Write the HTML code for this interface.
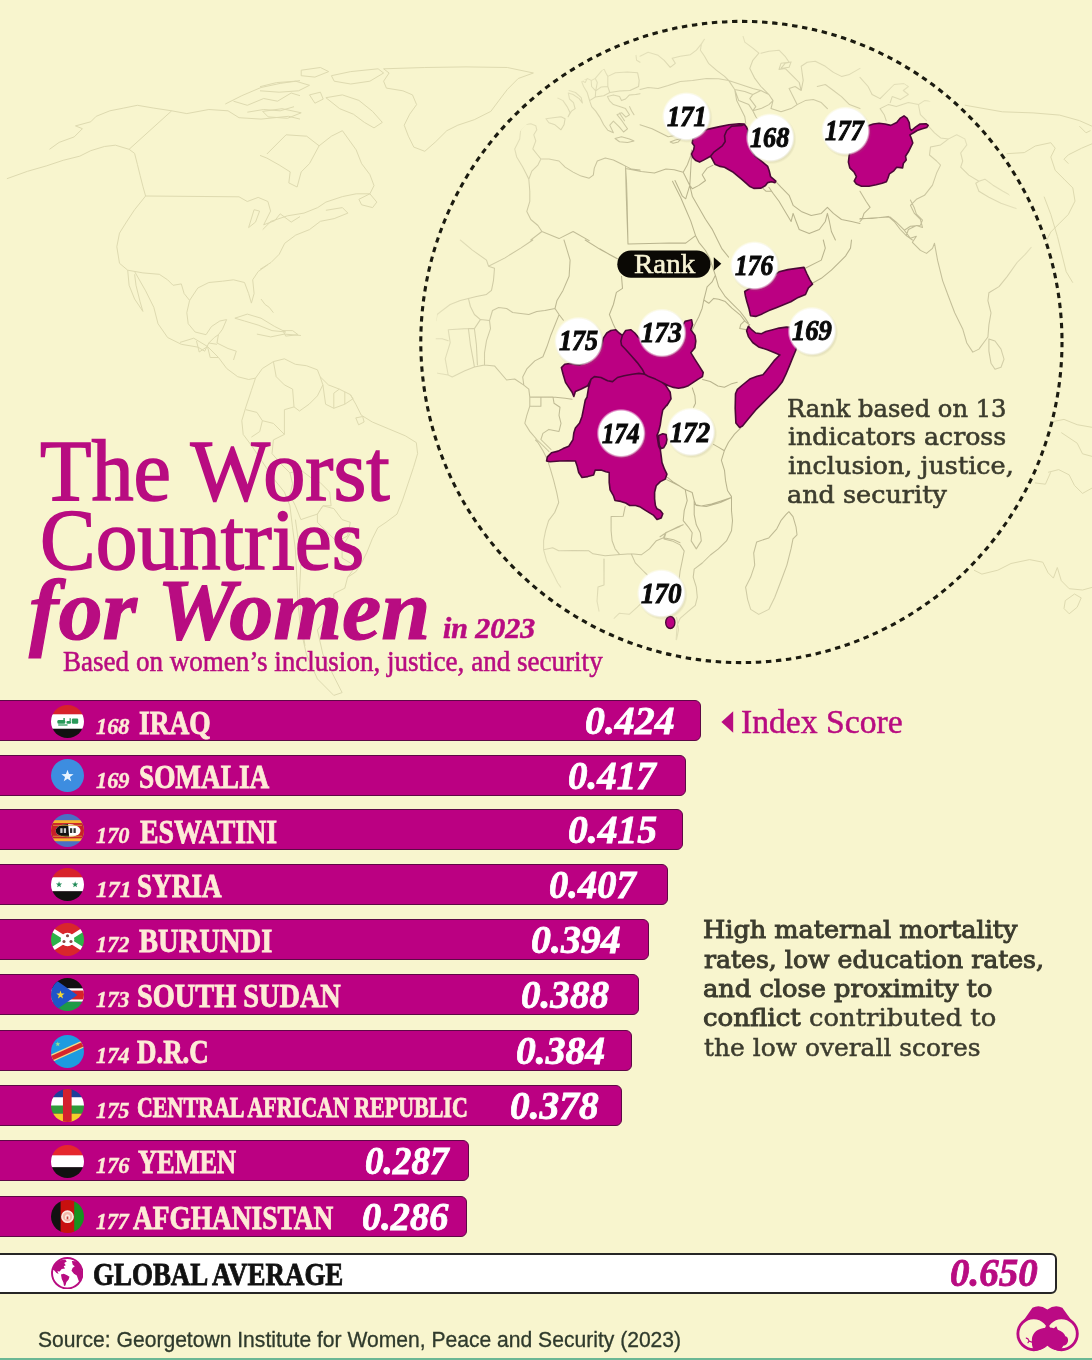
<!DOCTYPE html>
<html lang="en"><head><meta charset="utf-8"><title>The Worst Countries for Women in 2023</title>
<style>
html,body{margin:0;padding:0}
body{width:1092px;height:1360px;position:relative;overflow:hidden;background:#f8f5ce;font-family:'Liberation Serif', serif}
.t{position:absolute;white-space:nowrap;line-height:1;transform-origin:0 0}
.bar{position:absolute;left:-6px;height:39.4px;background:#bb0082;border:1.5px solid #5e0845;border-radius:6px}
.gbar{background:#fff;border:2px solid #262626;height:37px}
svg{position:absolute;left:0;top:0}
.flag{position:absolute;width:33px;height:33px;left:50.5px}
.green{position:absolute;left:0;top:1357.5px;width:1092px;height:2.5px;background:#6cb894}
</style></head>
<body>
<svg width="1092" height="1360" viewBox="0 0 1092 1360">
<defs>
<clipPath id="lensclip"><circle cx="741.4" cy="342.0" r="306"/></clipPath>
<radialGradient id="fade" gradientUnits="userSpaceOnUse" cx="741.4" cy="342.0" r="306"><stop offset="0.55" stop-color="#fff" stop-opacity="1"/><stop offset="0.8" stop-color="#fff" stop-opacity="0.7"/><stop offset="1" stop-color="#fff" stop-opacity="0.3"/></radialGradient>
<mask id="lm" maskUnits="userSpaceOnUse" x="0" y="0" width="1092" height="1360"><circle cx="741.4" cy="342.0" r="306" fill="url(#fade)"/></mask>
<radialGradient id="lg"><stop offset="0" stop-color="#fff"/><stop offset="0.9" stop-color="#fff"/><stop offset="1" stop-color="#fff" stop-opacity="0"/></radialGradient>
<radialGradient id="lsh"><stop offset="0.8" stop-color="#8a8660" stop-opacity="0.35"/><stop offset="1" stop-color="#8a8660" stop-opacity="0"/></radialGradient>
</defs>
<path d=" M6.9,178.7 L27.5,171.3 L46.7,165.8 L63.2,160.3 L79.7,156.2 L90.7,150.7 L104.4,146.5 L115.4,145.2 L129.1,149.3 L134.6,153.4 L137.4,164.4 L140.1,175.4 L142.9,186.4 L145.6,196.0 L140.1,202.9 L134.6,209.7 L126.4,222.1 L119.5,233.1 L116.8,246.8 L119.5,263.3 L127.7,270.2 M49.5,149.3 L59.1,142.4 L74.2,136.9 L82.4,128.7 L75.5,125.9 L90.7,121.8 L96.2,116.3 L109.9,110.8 L123.6,108.1 L137.4,105.3 L153.8,108.1 L171.7,110.8 L186.8,113.6 L208.8,109.5 L228.0,110.8 L239.0,117.7 L261.0,119.1 L288.5,116.3 L300.0,119.1 M171.7,110.8 L129.1,149.3 M225.3,104.0 L241.8,95.7 L261.0,87.5 L280.2,83.4 L300.0,80.6 M233.5,101.2 L247.3,105.3 L263.7,98.5 L277.5,101.2 L291.2,93.0 L300.0,95.7 M247.3,112.2 L263.7,109.5 L280.2,110.8 L294.0,106.7 M145.6,196.0 L239.0,196.8 L247.3,201.5 L258.2,197.4 L267.9,201.5 L270.6,211.1 L263.7,224.8 L274.7,220.7 L280.2,213.8 L291.2,222.1 L300.0,216.6 M254.1,209.7 L248.6,227.6 L255.5,222.1 L259.6,211.1 L254.1,209.7 M127.7,270.2 L142.9,272.9 L159.3,274.3 L167.6,279.8 L173.1,285.3 L181.3,283.9 L184.1,293.5 L189.6,300.4 M127.7,270.2 L129.1,285.3 L134.6,299.0 L142.9,311.4 L140.1,301.8 L136.0,285.3 L134.6,274.3 M134.6,271.5 L145.6,290.8 L153.8,307.3 L158.0,323.7 L167.6,337.5 L181.3,344.3 L197.8,347.1 L204.7,351.2 M189.6,300.4 L197.8,288.0 L208.8,282.5 L222.5,281.2 L233.5,279.8 L244.5,282.5 L248.6,293.5 L251.4,303.1 L254.1,293.5 L252.7,279.8 L258.2,271.5 L267.9,264.7 M189.6,300.4 L186.8,312.7 L188.2,323.7 L195.1,332.0 L206.0,334.7 L211.5,326.5 L219.8,321.0 L226.6,319.6 L222.5,329.2 L218.4,334.7 L217.0,343.0 L228.0,348.5 L236.3,351.2 L233.5,360.0 M204.7,351.2 L208.8,343.0 L214.3,337.5 L218.4,334.7 M208.8,343.0 L217.0,344.3 M234.9,318.2 L247.3,314.1 L261.0,318.2 L274.7,326.5 L285.7,332.0 L272.0,330.6 L258.2,325.1 L244.5,321.0 L234.9,318.2 M283.0,330.6 L292.6,330.6 L298.1,334.7 L285.7,336.1 L283.0,330.6 M261.0,299.0 L265.1,304.5 L269.2,307.3 L273.4,312.7 M383.6,68.8 L424.8,67.5 L466.0,66.9 L507.3,67.5 L533.4,73.0 L518.2,78.5 L507.3,89.5 L499.0,100.4 L490.8,111.4 L474.3,119.7 L457.8,125.2 L446.8,130.7 L435.8,141.6 L424.8,151.3 L413.8,147.1 L408.4,136.2 L404.2,125.2 L409.7,114.2 L416.6,104.6 L412.5,94.9 L402.9,90.8 L386.4,88.1 L383.6,81.2 L389.1,73.0 L383.6,68.8 M331.4,75.7 L350.7,71.6 L378.1,68.8 L383.6,73.0 L369.9,81.2 L350.7,84.0 L334.2,81.2 L331.4,75.7 M325.9,97.7 L342.4,94.9 L358.9,100.4 L372.6,111.4 L382.3,122.4 L374.0,127.9 L364.4,122.4 L353.4,114.2 L339.7,108.7 L325.9,97.7 M260.0,86.7 L276.5,82.6 L295.7,81.2 L309.5,85.3 L298.5,90.8 L279.2,92.2 L260.0,90.8 M262.7,111.4 L282.0,108.7 L301.2,112.8 L287.5,118.3 L268.2,116.9 L262.7,111.4 M309.5,94.9 L320.4,92.2 L323.2,99.1 L314.9,103.2 L309.5,94.9 M301.2,70.2 L320.4,67.5 L328.7,71.6 L314.9,77.1 L301.2,75.7 L301.2,70.2 M266.9,154.0 L286.1,134.8 L306.7,136.2 L319.1,145.8 L309.5,163.6 L301.2,171.9 L297.1,187.0 L288.8,182.9 L290.2,171.9 L279.2,165.0 L266.9,158.1 L260.0,155.4 M319.1,145.8 L331.4,136.2 L342.4,130.7 L356.2,149.9 L361.6,163.6 L369.9,174.6 L374.0,185.6 L369.9,193.8 L356.2,193.8 L342.4,196.6 L325.9,202.1 L317.7,207.6 L304.0,213.1 L287.5,215.8 L271.0,221.3 L262.7,229.6 M358.9,199.3 L369.9,193.8 L376.8,202.1 L372.6,207.6 L361.6,204.8 L358.9,199.3 M325.9,210.3 L342.4,207.6 L347.9,213.1 L334.2,218.6 L320.4,221.3 L309.5,229.6 L295.7,235.1 L284.7,243.3 L279.2,254.3 L271.0,262.5 L260.0,269.4 M180.0,342.4 L193.7,338.2 L207.5,346.5 L218.5,357.5 L226.7,368.5 L237.7,376.7 L248.7,379.5 L255.5,378.1 L262.4,368.5 L273.4,361.6 L284.4,358.8 L295.4,364.3 L306.4,365.7 L317.4,369.8 L320.1,376.7 L328.4,384.9 L339.3,389.1 L350.3,394.6 L355.8,404.2 L361.3,415.2 L372.3,422.0 L388.8,428.9 L405.3,435.8 L416.3,442.6 L417.6,453.6 L413.5,467.4 L408.0,483.8 L402.5,500.3 L397.0,514.1 L386.0,522.3 L377.8,527.8 L372.3,538.8 L366.8,552.5 L361.3,563.5 L355.8,571.8 L347.6,577.3 L344.8,588.2 L333.8,593.7 L333.8,604.7 L328.4,615.7 L317.4,630.0 L322.9,654.2 L333.8,676.2 L342.1,692.6 M255.5,378.1 L251.4,390.4 L245.9,406.9 L241.8,420.7 L243.2,434.4 L251.4,445.4 L262.4,461.9 L273.4,478.4 L284.4,492.1 L289.9,505.8 L292.6,527.8 L295.4,549.8 L296.8,577.3 L298.1,604.7 L300.9,630.0 L306.4,654.2 L317.4,678.9 L333.8,695.4 L342.1,692.6 M273.4,361.6 L276.2,376.7 L284.4,384.9 L292.6,389.1 L294.0,406.9 L299.5,411.0 L309.1,404.2 L317.4,395.9 L322.9,384.9 L320.1,376.7 M322.9,384.9 L325.6,404.2 L333.8,408.3 L333.8,393.2 L339.3,389.1 M333.8,408.3 L344.8,404.2 L344.8,391.8 M344.8,404.2 L353.1,398.7 L350.3,394.6 M245.9,409.7 L256.9,412.4 L262.4,420.7 L259.7,431.6 L251.4,437.1 M262.4,420.7 L273.4,423.4 L284.4,434.4 L273.4,439.9 L272.0,453.6 L281.6,464.6 L289.9,472.9 L300.9,470.1 L311.9,478.4 L320.1,482.5 L329.7,492.1 L331.1,505.8 L322.9,505.8 L317.4,514.1 L309.1,516.8 L300.9,519.6 L295.4,505.8 L289.9,494.8 L292.6,483.8 L289.9,472.9 M284.4,409.7 L294.0,406.9 M284.4,409.7 L284.4,434.4 M317.4,514.1 L322.9,505.8 L333.8,508.6 L342.1,519.6 L350.3,522.3 L347.6,536.0 L336.6,541.5 L328.4,533.3 L317.4,522.3 L317.4,514.1 M295.4,519.6 L298.1,538.8 L300.9,563.5 L299.5,591.0 L300.9,618.5 L305.0,645.9 M342.1,558.0 L355.8,566.3 L347.6,577.3 M350.3,533.3 L342.1,547.0 L342.1,558.0 M355.8,417.9 L362.7,416.5 L364.1,422.0 L358.6,424.8 L355.8,417.9 M256.9,334.1 L270.7,336.9 L284.4,334.1 L300.9,335.5 M196.5,341.0 L199.2,352.0 L207.5,346.5 M207.5,346.5 L210.2,357.5 L218.5,357.5 M964.8,105.2 L1002.3,111.8 L1033.1,112.9 L1059.6,115.1 L1079.4,120.6 L1092.0,126.2 M1006.7,153.7 L1024.3,152.6 L1035.3,146.0 L1050.8,142.7 L1055.2,148.2 L1050.8,157.0 L1055.2,170.3 L1064.0,179.1 L1072.8,187.9 L1075.0,201.1 L1068.4,214.4 L1059.6,223.2 L1050.8,232.0 L1046.4,240.8 M1092.0,143.8 L1081.6,148.2 L1068.4,154.8 L1064.0,159.2 L1068.4,163.6 M1044.1,196.7 L1050.8,214.4 L1057.4,236.4 L1061.8,254.0 L1066.2,271.7 L1072.8,282.7 M1079.4,126.2 L1086.0,132.8 L1090.5,130.6 M974.0,570.2 L981.9,574.1 L997.8,570.2 L1011.0,563.5 L1029.6,559.6 L1042.8,562.2 L1048.1,572.8 L1053.4,578.1 L1057.3,567.5 L1061.3,580.7 L1069.2,588.7 L1082.5,590.0 L1092.0,587.4 M1065.3,600.6 L1074.5,594.0 L1081.2,597.9 L1077.2,607.2 L1069.2,613.8 L1064.0,608.5 L1065.3,600.6 M1050.7,422.0 L1064.0,419.4 L1077.2,424.7 L1092.0,427.3 M1061.3,432.6 L1077.2,443.2 L1082.5,453.8 L1092.0,456.4 M1048.1,472.3 L1058.7,469.6 L1069.2,474.9 L1074.5,485.5 L1082.5,493.4 L1092.0,488.1 M1034.9,482.9 L1045.4,484.2 L1050.7,472.3" fill="none" stroke="#dedab0" stroke-width="1" stroke-linejoin="round"/>
<circle cx="741.4" cy="342.0" r="320.6" fill="#f8f5ce"/>
<g clip-path="url(#lensclip)">
<path mask="url(#lm)" d="M520.7,129.8 L524.8,124.8 L530.8,123.8 L535.8,125.8 L536.8,129.8 L533.8,134.8 L535.8,140.9 L532.8,148.9 L536.8,154.0 L540.9,159.0 M520.7,129.8 L519.7,138.9 L514.7,148.9 L516.7,157.0 L522.7,167.1 L526.8,175.1 L528.8,179.2 L531.8,171.1 L537.9,165.1 L540.9,159.0 M528.8,179.2 L529.8,191.2 L529.8,201.3 L526.8,211.4 L530.8,219.5 L537.9,225.5 L541.9,231.5 L559.0,238.6 L573.1,231.5 L589.2,240.6 M541.9,231.5 L530.8,240.0 M540.9,159.0 L548.9,159.0 L559.0,161.0 L565.1,167.1 L573.1,172.1 L581.2,176.1 L589.2,178.2 L593.3,175.1 L594.3,168.1 L597.3,161.0 L605.3,158.0 L613.4,160.0 L621.5,164.0 L625.5,166.1 L631.5,169.1 L640.0,170.1 M625.5,166.1 L626.5,181.2 L627.1,201.3 L627.5,221.5 L627.9,240.0 M545.9,118.7 L553.0,117.7 L561.0,116.7 L565.1,118.7 L564.0,124.8 L561.0,129.8 L555.0,124.8 L548.9,122.7 L545.9,118.7 M557.0,97.6 L563.0,100.6 L567.1,106.6 L570.1,112.7 L568.1,116.7 L571.5,111.1 L575.1,108.6 L573.5,102.6 L569.5,99.0 L568.3,92.9 L573.1,94.5 L579.2,98.6 L582.4,103.0 L581.2,97.6 L575.5,92.5 L569.1,90.5 M581.2,80.4 L583.6,86.5 L587.2,92.5 L589.6,100.6 L591.6,106.6 L595.7,111.1 L599.7,117.1 L603.7,124.8 L607.8,130.2 L613.4,132.8 L609.8,125.2 L613.4,121.1 L619.5,127.2 L623.5,132.0 L627.5,128.8 L621.9,120.7 L617.0,114.7 L621.5,112.7 L625.9,117.1 L629.5,114.7 L625.5,108.6 L619.5,106.6 L613.4,104.6 L609.4,100.6 L607.4,96.6 M615.0,138.5 L621.5,136.8 L629.5,138.9 L634.0,140.9 L627.5,142.5 L619.5,141.7 L615.0,138.5 M581.2,80.4 L587.2,78.4 L591.2,80.4 L591.6,86.5 L595.7,90.9 L595.3,97.0 L589.6,100.6 M595.7,90.9 L601.3,86.9 L607.8,86.5 L609.8,92.5 L603.7,95.8 L595.3,97.0 M603.7,68.4 L605.8,72.8 L607.8,76.4 L607.8,86.5 M607.8,76.4 L615.4,72.8 L627.5,72.0 L637.6,72.8 L639.2,80.4 L638.6,86.5 L629.9,90.5 L619.5,90.9 L609.8,92.5 M607.4,96.6 L613.4,94.9 L619.5,96.6 L621.5,100.6 L625.5,99.0 L629.5,94.9 L635.6,94.5 L640.0,93.7 M629.5,106.6 L631.5,110.7 L634.0,114.7 M619.5,113.1 L621.9,116.7 L624.5,120.7 M635.6,52.2 L636.6,60.3 L640.0,62.3 M587.2,78.4 L585.2,82.5 L581.2,80.4 M591.6,80.4 L595.3,78.4 L597.3,82.5 L595.7,90.9 M595.3,78.4 L603.7,68.4 M640.0,56.3 L648.1,52.2 L658.1,55.3 L664.2,60.3 L670.2,67.3 L675.3,63.3 L672.2,58.3 L680.3,56.3 L690.4,54.7 L696.4,50.2 L700.4,45.2 L704.5,39.1 L701.4,44.2 L700.4,50.2 L704.5,56.3 L708.5,63.3 L716.6,70.4 L724.6,76.4 L728.6,80.4 M640.0,89.5 L648.1,87.5 L658.1,88.5 L668.2,85.5 L680.3,81.4 L692.4,80.4 L706.5,78.4 L718.6,78.8 L728.6,80.4 M742.7,35.1 L744.8,42.2 L752.8,48.2 L758.9,53.2 L752.8,60.3 L749.8,68.4 L754.8,78.4 L760.9,86.5 L768.9,94.5 L773.0,100.6 L771.0,108.6 L781.0,111.7 L791.1,108.6 L797.1,104.6 L793.1,96.6 L789.1,88.5 L795.1,86.5 L801.2,90.5 L799.2,82.5 L793.1,76.4 L785.1,68.4 L779.0,69.4 L781.0,63.3 L789.1,62.3 L785.1,56.3 L779.0,50.2 L768.9,51.2 L760.9,53.2 M640.0,124.8 L646.0,126.8 L652.1,128.8 L660.1,132.8 L668.2,136.8 L676.3,135.2 L684.3,136.8 L690.4,134.8 L694.4,140.9 M670.2,141.9 L675.3,139.9 L681.3,138.5 L678.3,141.9 L673.2,143.3 L670.2,141.9 M728.6,80.4 L740.7,84.5 L752.8,88.5 L760.9,90.5 L768.9,94.5 M728.6,80.4 L734.7,89.5 L744.8,91.5 L752.8,94.5 L760.9,90.5 M734.7,89.5 L738.7,100.6 L748.8,104.6 L752.8,110.7 L755.8,106.6 L749.8,98.6 L752.8,94.5 M752.8,110.7 L760.9,108.6 L768.9,104.6 L773.0,100.6 M734.7,89.5 L736.7,100.6 L740.7,108.6 L744.8,116.7 L745.8,123.8 M752.8,110.7 L755.8,116.7 L758.9,120.7 M797.1,104.6 L805.2,100.6 L813.3,99.6 L821.3,102.6 L827.4,108.6 M801.2,90.5 L803.2,80.4 L801.2,66.3 L807.2,62.3 L815.3,61.3 L825.3,66.3 L833.4,72.4 L841.5,76.4 L849.5,74.4 L860.0,68.4 M817.3,86.5 L825.3,84.5 L833.4,90.5 L841.5,96.6 L849.5,104.6 L860.0,108.6 M781.0,68.4 L785.1,63.3 L791.1,61.9 L789.1,67.3 L781.0,68.4 M775.4,181.2 L781.0,187.2 L789.1,195.3 L793.1,205.3 L801.2,211.4 L811.2,215.4 L821.3,213.4 L827.4,207.4 L833.4,213.4 L841.5,219.5 L851.5,221.5 L860.0,223.5 M768.9,187.2 L773.0,193.3 L779.0,201.3 L785.1,211.4 L791.1,221.5 L793.1,213.4 L796.1,221.5 L799.2,229.5 L809.2,233.6 L819.3,229.5 L825.3,221.5 L827.4,213.4 L829.4,221.5 L831.4,231.5 L835.4,240.0 M762.9,188.4 L765.9,191.2 L771.0,191.2 M860.0,77.4 L868.1,86.5 L872.1,94.5 L880.1,98.6 L886.2,92.5 L894.2,84.5 L904.3,83.5 L908.4,86.5 L903.3,90.5 L908.4,94.5 L900.3,99.6 L892.2,96.6 L890.2,102.6 M880.1,108.6 L888.2,104.6 L896.3,106.6 L908.4,102.6 L918.4,104.6 L920.4,114.7 L926.5,120.7 M918.4,104.6 L924.5,100.6 L932.5,101.6 M880.1,108.6 L884.2,114.7 L886.2,120.7 M927.5,125.2 L934.5,132.8 L940.6,137.9 L948.6,138.9 L956.7,134.8 L964.8,138.9 L966.8,144.9 L960.7,153.0 L962.7,161.0 L960.7,167.1 L968.8,175.1 L978.9,181.2 L984.9,179.2 L993.0,185.2 L1003.0,191.2 L1012.1,196.3 M975.8,183.2 L978.9,191.2 L988.9,197.3 L1001.0,203.3 L1013.1,207.4 L1019.2,209.4 M978.9,181.2 L975.8,183.2 M948.6,138.9 L940.6,144.9 L930.5,146.9 L929.5,155.0 L936.6,161.0 L940.6,165.1 L936.6,173.1 L932.5,185.2 L924.5,195.3 L916.4,199.3 L910.4,205.3 L914.4,213.4 L920.4,219.5 L922.5,227.5 L916.4,225.5 L908.4,229.5 L906.3,235.6 L912.4,240.0 M860.0,191.2 L866.0,201.3 L870.1,207.4 L864.0,213.4 L862.0,219.5 L860.0,221.5 M860.0,218.4 L872.1,218.4 L888.2,216.4 L894.2,221.5 L900.3,229.5 L906.3,235.6 M460.3,240.0 L472.4,250.1 L486.5,260.1 L488.5,266.2 L504.6,258.1 L520.7,248.1 L532.8,240.0 M488.5,266.2 L494.5,268.2 L493.5,280.3 L491.5,290.4 L486.5,294.4 L476.4,296.4 L468.4,298.4 L460.3,300.4 L450.2,304.5 L442.2,310.5 L437.1,314.5 L436.1,320.6 M468.4,298.4 L470.4,306.5 L474.4,314.5 L480.4,319.6 L489.5,320.6 L492.5,310.5 L498.6,307.5 L506.6,308.5 L512.7,312.5 L520.7,313.5 L528.8,314.5 L536.8,311.5 L544.9,310.5 L555.0,308.5 M555.0,308.5 L557.0,300.4 L563.0,290.4 L569.1,276.3 L570.1,260.1 L567.1,250.1 L564.0,240.0 M585.2,240.0 L601.3,250.1 L618.4,259.1 M621.5,276.3 L622.5,288.4 L616.4,292.4 L613.4,304.5 L609.4,314.5 L613.4,324.6 L616.4,330.7 M555.0,308.5 L559.0,314.5 L563.4,320.2 M559.0,314.9 L551.0,334.7 L546.9,346.8 L542.9,356.8 L534.8,360.9 L526.8,368.9 L522.7,377.0 L523.8,385.1 L528.8,389.1 L529.8,397.1 L540.9,397.1 L553.0,397.1 L565.1,398.2 L572.1,399.2 M529.8,397.1 L529.8,406.2 L540.9,406.2 L540.9,397.1 M529.8,406.2 L526.8,415.3 L524.8,423.3 L529.8,431.4 L536.8,439.5 L542.9,445.5 L548.9,451.5 M553.0,397.1 L554.0,403.2 L560.0,407.2 L559.0,415.3 L561.0,423.3 L559.0,431.4 L548.9,429.4 L542.9,433.4 L540.9,439.5 L544.9,443.5 L551.0,449.5 M436.1,373.0 L448.2,375.0 L452.2,377.0 L464.3,371.0 L474.4,366.9 L484.5,364.9 L494.5,365.9 L500.6,373.0 L506.6,380.0 L514.7,379.0 L523.8,385.1 M489.5,320.6 L490.5,328.6 L486.5,340.7 L484.5,352.8 L484.5,364.9 M474.4,328.6 L476.4,344.8 L477.4,364.9 M468.4,328.6 L470.4,344.8 L473.4,360.9 L474.4,366.9 M448.2,329.7 L468.4,328.6 L474.4,328.6 L480.4,319.6 M448.2,329.7 L450.2,342.7 L445.2,358.9 L448.2,375.0 M435.1,338.7 L442.2,338.7 L448.2,340.7 M744.8,320.6 L740.7,324.6 L739.7,328.6 L746.8,329.7 L749.8,324.6 M805.2,268.2 L821.3,260.1 L825.3,248.1 L823.3,240.0 M812.3,283.3 L821.3,278.3 L831.4,270.2 L839.5,262.2 L845.5,256.1 L850.5,248.1 L851.5,240.0 M860.0,219.1 L872.1,218.1 L890.2,217.1 L896.3,222.2 L904.3,230.2 L910.4,226.2 L920.4,225.2 L922.5,220.1 L916.4,214.1 L914.4,208.1 L910.4,200.0 M904.3,230.2 L910.4,238.3 L916.4,236.3 L912.4,242.3 L920.4,250.4 L926.5,253.4 L932.5,248.4 L934.5,243.3 L937.6,260.4 L942.6,280.6 L948.6,296.7 L954.7,312.8 L962.7,328.9 L966.8,343.0 L972.8,352.1 L978.9,349.1 L984.9,341.0 L987.9,337.0 L988.9,324.9 L991.0,312.8 L987.9,300.7 L988.9,292.7 L999.0,286.6 L1007.1,276.6 L1017.1,262.5 L1025.2,254.4 L1031.2,247.3 M988.9,339.0 L995.0,341.0 L1001.0,349.1 L1004.0,359.2 L1001.0,367.2 L995.0,369.2 L991.0,363.2 L988.9,351.1 L988.9,339.0 M535.5,440.0 L537.6,442.0 L542.6,450.1 L547.6,460.1 L550.7,470.2 L553.7,480.3 L556.7,492.4 L558.7,502.5 L554.7,512.5 L548.6,520.6 L545.6,530.7 L543.6,540.7 L543.6,549.8 L546.6,560.9 L552.7,573.0 L557.7,583.0 L560.7,587.1 M543.6,549.8 L552.7,547.8 L558.7,550.8 L572.8,550.4 L588.9,550.8 L593.0,553.8 L605.1,555.8 L617.1,554.8 L631.2,553.8 M611.1,516.6 L611.1,530.7 L612.1,540.7 L615.1,548.8 L619.2,553.8 M611.1,516.6 L623.2,516.2 L625.2,506.5 M604.0,558.9 L604.0,585.1 L598.0,587.1 L597.0,601.2 L599.0,611.2 M631.2,553.8 L635.3,562.9 L643.3,571.0 L647.4,575.0 M614.1,618.3 L619.2,613.3 L629.2,614.3 L637.3,607.2 L641.3,603.2 M631.2,553.8 L641.3,554.8 L649.4,548.8 L656.4,540.7 L663.5,537.7 L665.5,532.7 L680.0,526.6 M663.5,537.7 L673.6,539.7 L680.0,542.7 M667.5,477.3 L673.6,482.3 L680.0,486.3 M676.6,617.3 L678.6,629.4 L676.6,639.5 M740.6,428.1 L734.5,434.1 L728.5,442.2 L724.5,450.2 L721.4,460.3 L724.5,470.4 L725.5,480.4 L727.5,490.5 L731.5,496.6 L731.5,510.7 L732.5,520.7 L731.5,530.8 L726.5,540.9 L718.4,548.9 L710.4,555.0 L702.3,563.0 L694.2,569.1 L693.2,577.1 L696.3,587.2 L697.3,597.3 L695.3,605.3 L688.2,611.4 L680.1,618.4 L677.1,625.5 L676.1,640.0 M731.5,497.6 L720.4,502.6 L706.3,506.6 L696.3,505.6 L694.2,500.6 M685.2,489.5 L687.2,500.6 L684.2,510.7 L683.2,520.7 L688.2,526.8 L692.2,532.8 L691.2,540.9 L696.3,548.9 L701.3,540.9 L700.3,532.8 L696.3,524.8 L694.2,514.7 L694.2,500.6 L692.2,492.5 L685.2,489.5 M660.0,536.8 L666.0,532.8 L678.1,526.8 L683.2,524.8 M666.0,532.8 L664.0,538.9 L672.1,540.9 L680.1,544.9 L684.2,551.0 L682.2,561.0 L680.1,571.1 L679.1,579.2 M788.9,511.7 L793.0,516.7 L796.0,526.8 L797.0,534.8 L793.0,538.9 L791.0,548.9 L786.9,565.1 L780.9,581.2 L774.8,597.3 L768.8,609.4 L758.7,614.4 L750.7,609.4 L747.6,599.3 L745.6,587.2 L750.7,577.1 L754.7,565.1 L753.7,553.0 L756.7,541.9 L768.8,537.9 L776.8,528.8 L780.9,520.7 L785.9,514.7 L788.9,511.7 M625.5,168.1 L626.4,199.5 L628.0,244.0 M625.5,168.5 L641.2,171.4 L654.4,173.1 L665.9,169.0 L674.2,169.8 L683.2,172.3 L687.4,164.8 L690.7,155.8 L691.6,150.0 M628.0,244.0 L649.5,243.6 L669.2,243.1 L685.7,243.1 L695.6,235.7 M672.5,181.3 L677.5,191.2 L680.8,197.8 L685.7,209.3 L690.7,220.9 L695.6,235.7 L698.9,242.3 L705.5,250.5 L709.6,258.0 L715.4,275.3 L718.7,286.8 L725.3,296.7 L731.9,303.3 L740.1,311.5 L745.1,318.1 L748.4,323.1 M675.0,180.5 L682.4,196.2 L685.7,198.8 L689.8,185.4 M683.2,172.3 L689.8,185.4 M689.8,185.4 L692.3,196.2 L698.9,207.7 L705.5,219.2 L712.1,229.1 L717.0,239.0 L722.0,248.9 L728.6,257.1 M689.8,185.4 L692.3,188.7 L698.9,185.4 L705.5,180.5 L702.2,174.7 L707.1,168.1 L712.9,165.2 M691.5,155.8 L690.7,169.8 L689.8,185.4 M715.4,275.3 L712.1,281.9 L707.1,286.8 L705.5,293.4 L703.8,300.0 L708.8,303.3 L713.7,298.4 L718.7,299.2 L725.3,301.6 L731.9,308.2 L740.1,314.8 L745.1,321.4 L749.2,324.7 M703.8,300.0 L702.2,308.2 L698.9,316.5 L695.6,323.1 L692.3,330.0 M600.0,248.9 L609.9,254.7 L617.3,258.8 M692.3,387.9 L694.9,395.6 L695.5,403.3 L693.6,407.2 M702.6,379.6 L710.3,381.5 L717.9,386.0 L724.4,387.3 L730.8,384.1 L737.2,382.2 M713.5,444.4 L719.2,447.6 L724.4,450.8 M731.4,497.6 L721.8,500.8 L711.5,504.0 L701.3,505.9 L694.9,504.6 M666.7,479.6 L673.1,482.8 L679.5,486.0 L684.6,489.2" fill="none" stroke="#b9b48e" stroke-width="1.05" stroke-linejoin="round" stroke-linecap="round"/>
<path d="M704.0,130.5 L708.4,129.1 L718.6,126.9 L728.9,124.7 L739.1,123.7 L744.2,124.0 L742.1,125.4 L731.8,126.2 L726.7,130.5 L724.5,135.7 L725.2,141.5 L722.3,145.9 L714.2,151.8 L710.5,156.2 L704.0,159.9 L699.6,162.1 L695.9,160.6 L693.0,157.7 L691.5,154.0 L693.7,149.6 L694.4,145.9 L692.2,143.0 L693.0,138.6 L695.9,136.4 L701.0,132.7Z M744.2,124.0 L746.4,126.9 L747.9,130.5 L747.5,134.5 L748.2,138.6 L750.8,148.9 L755.2,156.2 L762.6,162.1 L767.7,166.4 L769.2,170.8 L770.6,176.7 L775.8,181.1 L775.0,182.6 L771.4,181.8 L767.7,182.6 L765.5,185.5 L761.1,188.1 L753.8,188.4 L749.4,186.2 L742.1,179.6 L733.3,172.3 L724.5,167.2 L720.1,166.4 L714.9,164.2 L712.7,159.9 L710.5,156.2 L714.2,151.8 L722.3,145.9 L725.2,141.5 L724.5,135.7 L726.7,130.5 L731.8,126.2 L742.1,125.4Z M868.9,125.4 L873.3,124.0 L879.1,123.2 L885.0,124.0 L890.8,125.4 L896.7,122.5 L900.4,118.1 L904.0,115.9 L907.0,118.1 L909.2,122.5 L909.9,128.4 L911.4,130.5 L915.8,126.9 L920.1,124.0 L926.0,123.7 L928.2,125.4 L926.7,127.6 L921.6,129.1 L917.2,130.5 L913.6,132.7 L909.9,134.9 L911.4,138.6 L912.8,143.0 L910.6,147.4 L908.4,151.8 L905.5,156.2 L906.2,159.9 L903.3,163.5 L902.6,167.9 L896.7,167.2 L893.8,170.8 L889.4,173.8 L887.9,178.2 L886.4,181.8 L882.1,183.3 L876.2,184.8 L868.9,186.2 L861.5,186.2 L856.4,184.0 L854.2,181.1 L856.4,176.7 L854.2,172.3 L849.8,167.9 L848.4,162.1 L849.1,156.2 L850.5,148.9 L849.8,141.5 L855.7,135.7 L861.5,131.3Z M744.7,291.5 L748.4,289.3 L758.6,284.2 L768.9,278.4 L779.1,271.8 L787.9,269.6 L796.7,268.4 L804.0,267.4 L807.0,274.0 L809.9,279.8 L812.5,284.2 L808.4,287.9 L805.5,294.5 L798.2,297.4 L790.8,301.8 L783.5,304.7 L776.2,307.7 L768.9,310.6 L761.5,314.2 L755.7,316.4 L750.5,315.7 L749.1,309.1 L746.9,301.8 L745.4,295.9Z M748.4,326.4 L751.3,329.3 L755.7,333.0 L761.5,333.7 L765.9,331.5 L771.8,330.0 L779.1,328.1 L786.4,327.1 L792.3,327.5 L796.7,329.3 L797.4,338.1 L796.0,349.8 L792.3,358.6 L789.4,365.9 L785.7,374.7 L782.1,382.1 L776.2,389.4 L770.3,395.2 L763.0,402.6 L755.7,409.9 L748.4,418.7 L742.5,426.0 L739.6,427.5 L735.9,423.1 L735.2,408.4 L735.5,393.8 L737.4,389.4 L742.5,385.0 L749.8,379.1 L757.1,376.2 L763.0,374.7 L768.9,367.4 L774.7,360.1 L779.9,354.9 L774.7,352.7 L767.4,349.8 L758.6,346.9 L752.7,342.5 L748.4,336.6 L746.6,330.8Z M561.4,367.6 L564.7,364.3 L569.7,363.5 L579.6,365.1 L589.5,361.0 L596.0,354.4 L601.0,347.8 L603.5,337.9 L606.8,333.0 L610.9,330.5 L615.8,329.7 L619.1,333.0 L622.4,335.4 L620.8,341.2 L621.6,345.3 L625.7,349.5 L631.5,356.0 L637.3,362.6 L642.2,369.2 L644.7,374.2 L638.9,373.4 L632.3,374.2 L624.1,375.8 L617.5,377.5 L612.5,381.6 L607.6,380.8 L601.0,377.5 L594.4,376.6 L591.1,379.1 L587.8,385.7 L581.2,389.0 L575.4,391.5 L573.8,396.4 L572.1,392.3 L568.8,387.4 L565.5,382.4 L563.1,374.2Z M622.4,335.4 L625.7,330.5 L630.7,329.7 L634.8,333.0 L638.9,337.9 L645.5,341.2 L655.4,341.2 L668.6,337.9 L680.1,329.7 L685.1,321.4 L691.6,319.8 L692.5,324.7 L690.8,329.7 L694.9,335.4 L695.8,341.2 L694.9,347.8 L690.8,352.7 L694.9,359.3 L699.1,365.9 L703.2,372.5 L702.4,376.6 L698.2,379.1 L693.3,382.4 L688.4,385.7 L683.4,387.4 L678.5,388.2 L673.5,387.4 L668.6,385.7 L662.0,382.4 L655.4,379.1 L648.8,376.6 L644.7,374.2 L642.2,369.2 L637.3,362.6 L631.5,356.0 L625.7,349.5 L621.6,345.3 L620.8,341.2Z M594.4,376.6 L601.0,377.5 L607.6,380.8 L612.5,381.6 L617.5,377.5 L624.1,375.8 L632.3,374.2 L638.9,373.4 L644.7,374.2 L648.8,376.6 L655.4,379.1 L662.0,382.4 L665.3,384.9 L670.2,392.3 L671.0,398.9 L666.9,405.5 L666.9,404.9 L662.8,409.9 L661.2,418.1 L660.3,424.7 L658.7,431.3 L657.0,435.4 L657.9,441.2 L658.7,446.2 L660.3,449.5 L661.2,456.0 L662.0,462.6 L664.5,469.2 L666.9,474.2 L665.3,479.1 L660.3,481.6 L656.2,485.7 L654.6,492.3 L654.6,498.9 L655.4,505.5 L657.0,508.8 L660.3,510.4 L662.8,513.7 L661.2,517.9 L657.0,519.5 L653.7,515.4 L649.6,512.9 L645.5,510.4 L640.5,507.1 L635.6,505.5 L629.8,505.5 L625.7,503.0 L620.8,501.4 L615.0,500.5 L613.4,495.6 L610.1,489.8 L609.2,482.4 L609.2,472.5 L605.9,471.7 L601.0,470.1 L595.2,470.1 L593.6,475.0 L587.8,476.6 L582.0,477.5 L578.7,472.5 L577.1,465.9 L575.4,461.0 L568.0,460.7 L559.8,461.0 L549.9,461.8 L546.6,461.0 L547.4,456.9 L551.5,452.7 L558.1,451.1 L563.1,448.6 L568.8,446.2 L573.0,439.6 L573.8,433.0 L575.4,428.0 L579.6,423.1 L582.0,416.5 L583.7,408.2 L585.3,400.0 L587.0,397.3 L588.6,387.4 L591.1,379.1Z M658.7,435.4 L662.8,433.8 L666.1,434.6 L666.9,439.6 L666.1,443.7 L663.6,447.8 L661.2,448.6 L659.5,445.3 L658.7,440.4Z" fill="#bb0082" stroke="#4d0738" stroke-width="1.6" stroke-linejoin="round"/>
<ellipse cx="670.3" cy="622.5" rx="4.6" ry="6" fill="#bb0082" stroke="#4d0738" stroke-width="1.4"/>
</g>
<circle cx="741.4" cy="342.0" r="320.6" fill="none" stroke="#1b1b10" stroke-width="3.1" stroke-dasharray="5.4 4.672"/>
<circle cx="687.7" cy="118.1" r="25" fill="url(#lsh)"/><circle cx="686.5" cy="116.5" r="24.6" fill="url(#lg)"/><circle cx="771.5" cy="139.29999999999998" r="25" fill="url(#lsh)"/><circle cx="770.3" cy="137.7" r="24.6" fill="url(#lg)"/><circle cx="846.8000000000001" cy="132.5" r="25" fill="url(#lsh)"/><circle cx="845.6" cy="130.9" r="24.6" fill="url(#lg)"/><circle cx="755.7" cy="267.20000000000005" r="25" fill="url(#lsh)"/><circle cx="754.5" cy="265.6" r="24.6" fill="url(#lg)"/><circle cx="813.3000000000001" cy="332.8" r="25" fill="url(#lsh)"/><circle cx="812.1" cy="331.2" r="24.6" fill="url(#lg)"/><circle cx="579.9000000000001" cy="342.8" r="25" fill="url(#lsh)"/><circle cx="578.7" cy="341.2" r="24.6" fill="url(#lg)"/><circle cx="663.2" cy="334.6" r="25" fill="url(#lsh)"/><circle cx="662" cy="333" r="24.6" fill="url(#lg)"/><circle cx="622.4000000000001" cy="434.90000000000003" r="25" fill="url(#lsh)"/><circle cx="621.2" cy="433.3" r="24.6" fill="url(#lg)"/><circle cx="692.2" cy="433.6" r="25" fill="url(#lsh)"/><circle cx="691.0" cy="432.0" r="24.6" fill="url(#lg)"/><circle cx="662.7" cy="595.1" r="25" fill="url(#lsh)"/><circle cx="661.5" cy="593.5" r="24.6" fill="url(#lg)"/>
<rect x="617.3" y="250.6" width="93.2" height="27.2" rx="13.6" fill="#0b0905"/>
<polygon points="713.8,257.2 721.3,263.8 713.8,270.4" fill="#0b0905"/>
<polygon points="721.4,722 733.2,711.2 733.2,732.8" fill="#b80c81"/>
</svg>
<div class="bar" style="top:700.0px;width:704.6px"></div>
<div class="bar" style="top:754.5px;width:689.5px"></div>
<div class="bar" style="top:809.0px;width:687.2px"></div>
<div class="bar" style="top:863.5px;width:672.2px"></div>
<div class="bar" style="top:918.5px;width:653.0px"></div>
<div class="bar" style="top:973.5px;width:642.6px"></div>
<div class="bar" style="top:1029.9px;width:636.0px"></div>
<div class="bar" style="top:1084.5px;width:625.5px"></div>
<div class="bar" style="top:1139.8px;width:473.2px"></div>
<div class="bar" style="top:1195.5px;width:471.2px"></div>
<div class="bar gbar" style="top:1252.6px;width:1059px"></div>
<svg class="flag" style="top:704.85px" viewBox="0 0 32 32" aria-label="iraq flag"><defs><clipPath id="fc0"><circle cx="16" cy="16" r="16"/></clipPath></defs><g clip-path="url(#fc0)"><rect width="32" height="9.5" fill="#d7222b"/><rect y="9" width="32" height="14.5" fill="#fff"/><rect y="23" width="32" height="9" fill="#111"/><rect x="6.2" y="14.6" width="7.6" height="3.6" rx="1.2" fill="#2a9a5a"/><rect x="15" y="15.6" width="4.4" height="2.6" rx="1" fill="#2a9a5a"/><rect x="20.2" y="13.2" width="6.2" height="5" rx="1.2" fill="#2a9a5a"/><rect x="7" y="18.8" width="9" height="1.2" fill="#2a9a5a"/><rect x="12" y="12.6" width="1.4" height="3" fill="#2a9a5a"/><rect x="18" y="12.8" width="1.2" height="3" fill="#2a9a5a"/></g></svg>
<svg class="flag" style="top:759.35px" viewBox="0 0 32 32" aria-label="somalia flag"><defs><clipPath id="fc1"><circle cx="16" cy="16" r="16"/></clipPath></defs><g clip-path="url(#fc1)"><rect width="32" height="32" fill="#3d8de0"/><polygon points="16.00,10.40 17.46,14.59 21.90,14.68 18.36,17.37 19.64,21.62 16.00,19.08 12.36,21.62 13.64,17.37 10.10,14.68 14.54,14.59" fill="#e9f4ff"/></g></svg>
<svg class="flag" style="top:813.85px" viewBox="0 0 32 32" aria-label="eswatini flag"><defs><clipPath id="fc2"><circle cx="16" cy="16" r="16"/></clipPath></defs><g clip-path="url(#fc2)"><rect width="32" height="32" fill="#4b6fc4"/><rect y="6" width="32" height="20.4" fill="#f6b52f"/><rect y="8.8" width="32" height="14.8" fill="#c8202a"/><ellipse cx="16.6" cy="16.2" rx="12" ry="6.4" fill="#fff"/><path d="M4.6 16.2 A12 6.4 0 0 1 16.6 9.8 L17.6 22.6 A12 6.4 0 0 1 4.6 16.2Z" fill="#111"/><rect x="9" y="13.8" width="2.2" height="4.6" fill="#ccc"/><rect x="12.4" y="13.8" width="2.2" height="4.6" fill="#ccc"/><rect x="18.4" y="13.8" width="2.2" height="4.6" fill="#333"/><rect x="21.8" y="13.8" width="2.2" height="4.6" fill="#333"/><path d="M2 11 L30 11 M2 21.6 L30 21.6" stroke="#d9a33a" stroke-width="0.8"/></g></svg>
<svg class="flag" style="top:868.35px" viewBox="0 0 32 32" aria-label="syria flag"><defs><clipPath id="fc3"><circle cx="16" cy="16" r="16"/></clipPath></defs><g clip-path="url(#fc3)"><rect width="32" height="9.5" fill="#d7222b"/><rect y="9" width="32" height="14" fill="#fff"/><rect y="22.5" width="32" height="10" fill="#111"/><polygon points="7.80,12.90 8.55,15.06 10.84,15.11 9.02,16.50 9.68,18.69 7.80,17.38 5.92,18.69 6.58,16.50 4.76,15.11 7.05,15.06" fill="#1f8a57"/><polygon points="23.40,12.90 24.15,15.06 26.44,15.11 24.62,16.50 25.28,18.69 23.40,17.38 21.52,18.69 22.18,16.50 20.36,15.11 22.65,15.06" fill="#1f8a57"/></g></svg>
<svg class="flag" style="top:923.35px" viewBox="0 0 32 32" aria-label="burundi flag"><defs><clipPath id="fc4"><circle cx="16" cy="16" r="16"/></clipPath></defs><g clip-path="url(#fc4)"><rect width="32" height="32" fill="#d9262c"/><polygon points="-8,1 16,16 -8,31" fill="#2db14a"/><polygon points="40,1 16,16 40,31" fill="#2db14a"/><path d="M-8 1 L40 31 M40 1 L-8 31" stroke="#fff" stroke-width="4"/><circle cx="16" cy="16" r="6.6" fill="#fff"/><circle cx="16" cy="12.4" r="1.5" fill="#8a4a4a"/><circle cx="12.6" cy="18" r="1.5" fill="#8a4a4a"/><circle cx="19.4" cy="18" r="1.5" fill="#8a4a4a"/></g></svg>
<svg class="flag" style="top:978.35px" viewBox="0 0 32 32" aria-label="ssudan flag"><defs><clipPath id="fc5"><circle cx="16" cy="16" r="16"/></clipPath></defs><g clip-path="url(#fc5)"><rect width="32" height="11" fill="#111"/><rect y="10" width="32" height="13" fill="#fff"/><rect y="12.2" width="32" height="8.6" fill="#d7222b"/><rect y="23" width="32" height="10" fill="#1f9a45"/><polygon points="-1,-2 25.6,16.4 -1,35" fill="#1f55c8"/><polygon points="9.20,12.20 10.19,15.04 13.19,15.10 10.80,16.92 11.67,19.80 9.20,18.08 6.73,19.80 7.60,16.92 5.21,15.10 8.21,15.04" fill="#f4d930"/></g></svg>
<svg class="flag" style="top:1034.75px" viewBox="0 0 32 32" aria-label="drc flag"><defs><clipPath id="fc6"><circle cx="16" cy="16" r="16"/></clipPath></defs><g clip-path="url(#fc6)"><rect width="32" height="32" fill="#1d9be0"/><polygon points="-2,19.9 34,3.7 34,11.3 -2,27.5" fill="#f0d98a"/><polygon points="-2,21.3 34,5.1 34,9.9 -2,26.1" fill="#d8262a"/><polygon points="6.60,6.20 7.21,7.96 9.07,8.00 7.59,9.12 8.13,10.90 6.60,9.84 5.07,10.90 5.61,9.12 4.13,8.00 5.99,7.96" fill="#9fe08a"/></g></svg>
<svg class="flag" style="top:1089.35px" viewBox="0 0 32 32" aria-label="car flag"><defs><clipPath id="fc7"><circle cx="16" cy="16" r="16"/></clipPath></defs><g clip-path="url(#fc7)"><rect width="32" height="8.5" fill="#1d3f9a"/><rect y="8" width="32" height="8.5" fill="#fff"/><rect y="16" width="32" height="8" fill="#2f9a3a"/><rect y="24" width="32" height="8" fill="#f5cf2a"/><rect x="11.6" width="8.4" height="32" fill="#d3212f"/></g></svg>
<svg class="flag" style="top:1144.65px" viewBox="0 0 32 32" aria-label="yemen flag"><defs><clipPath id="fc8"><circle cx="16" cy="16" r="16"/></clipPath></defs><g clip-path="url(#fc8)"><rect width="32" height="10.5" fill="#e5272d"/><rect y="10" width="32" height="12" fill="#fff"/><rect y="21.5" width="32" height="11" fill="#111"/></g></svg>
<svg class="flag" style="top:1200.35px" viewBox="0 0 32 32" aria-label="afg flag"><defs><clipPath id="fc9"><circle cx="16" cy="16" r="16"/></clipPath></defs><g clip-path="url(#fc9)"><rect width="10" height="32" fill="#111"/><rect x="9.3" width="13.6" height="32" fill="#c8100f"/><rect x="22.5" width="10" height="32" fill="#16931f"/><circle cx="16" cy="16.2" r="5.4" fill="#f3b9a8" stroke="#fbe9e0" stroke-width="1.6"/><path d="M13.6 18.6 L13.6 15.4 Q16 12.2 18.4 15.4 L18.4 18.6 Z" fill="#fbe9e0"/><rect x="15.2" y="16" width="1.6" height="2.6" fill="#c8403a"/></g></svg>
<svg class="flag" style="top:1256.7px;width:32.5px;height:32.5px" viewBox="0 0 32 32"><defs><clipPath id="gcl"><circle cx="16" cy="16" r="14.6"/></clipPath></defs><circle cx="16" cy="16" r="15" fill="#fff" stroke="#b80c81" stroke-width="1.9"/><g clip-path="url(#gcl)" fill="#b80c81"><path d="M1 12 L3 7 L8 3.5 L14 2.5 L15.5 4.5 L13 6 L14.5 8 L12.5 9.2 L13.8 11.2 L10.5 11.8 L8.5 14.2 L6.2 14 L7.5 16.8 L5.5 15.8 L3 13 Z"/><path d="M9.8 17.2 L12.6 16.4 L15.8 18 L18.2 19.4 L17.2 22.4 L15.2 24.6 L14.2 28 L12.8 28.6 L12.2 25 L10.6 21.6 Z"/><path d="M20.5 4 L24.5 4.2 L28.6 7.6 L31.5 12.5 L31.8 18 L30 22.5 L28 25 L26.6 21.6 L25.4 18.2 L22.6 16.6 L20.2 13.6 L21.2 10.8 L23.4 9 L21.4 7.6 Z"/></g></svg>
<div class="t" style="left:39.89px;top:427.30px;font:normal 400 87.6px/1 'Liberation Serif', serif;color:#b80c81;transform:scale(0.9615,1.0000);-webkit-text-stroke:1.56px #b80c81">The Worst</div>
<div class="t" style="left:40.19px;top:496.30px;font:normal 400 87.6px/1 'Liberation Serif', serif;color:#b80c81;transform:scale(0.9521,1.0000);-webkit-text-stroke:1.58px #b80c81">Countries</div>
<div class="t" style="left:28.80px;top:565.50px;font:italic 700 87.6px/1 'Liberation Serif', serif;color:#b80c81;transform:scale(1.0077,1.0000);-webkit-text-stroke:1.19px #b80c81">for Women</div>
<div class="t" style="left:442.80px;top:614.30px;font:italic 700 29.6px/1 'Liberation Serif', serif;color:#b80c81;transform:scale(1.0092,1.0000);-webkit-text-stroke:0.59px #b80c81">in 2023</div>
<div class="t" style="left:62.75px;top:646.50px;font:normal 400 29px/1 'Liberation Serif', serif;color:#b80c81;transform:scale(0.9332,1.0000);-webkit-text-stroke:0.54px #b80c81">Based on women’s inclusion, justice, and security</div>
<div class="t" style="left:95.60px;top:714.50px;font:italic 700 23.7px/1 'Liberation Serif', serif;color:#fdebd6;transform:scale(0.9443,1.0000);-webkit-text-stroke:0.42px #fdebd6">168</div>
<div class="t" style="left:138.52px;top:706.50px;font:normal 700 33px/1 'Liberation Serif', serif;color:#fdebd6;transform:scale(0.8319,1.0000);-webkit-text-stroke:0.84px #fdebd6">IRAQ</div>
<div class="t" style="left:585.00px;top:701.00px;font:italic 700 40px/1 'Liberation Serif', serif;color:#ffffff;transform:scale(0.9955,1.0000);-webkit-text-stroke:0.80px #ffffff">0.424</div>
<div class="t" style="left:95.60px;top:769.00px;font:italic 700 23.7px/1 'Liberation Serif', serif;color:#fdebd6;transform:scale(0.9443,1.0000);-webkit-text-stroke:0.42px #fdebd6">169</div>
<div class="t" style="left:138.82px;top:761.00px;font:normal 700 33px/1 'Liberation Serif', serif;color:#fdebd6;transform:scale(0.8263,1.0000);-webkit-text-stroke:0.85px #fdebd6">SOMALIA</div>
<div class="t" style="left:568.43px;top:755.50px;font:italic 700 40px/1 'Liberation Serif', serif;color:#ffffff;transform:scale(0.9736,1.0000);-webkit-text-stroke:0.82px #ffffff">0.417</div>
<div class="t" style="left:95.60px;top:823.50px;font:italic 700 23.7px/1 'Liberation Serif', serif;color:#fdebd6;transform:scale(0.9443,1.0000);-webkit-text-stroke:0.42px #fdebd6">170</div>
<div class="t" style="left:139.65px;top:815.50px;font:normal 700 33px/1 'Liberation Serif', serif;color:#fdebd6;transform:scale(0.8432,1.0000);-webkit-text-stroke:0.83px #fdebd6">ESWATINI</div>
<div class="t" style="left:568.41px;top:810.00px;font:italic 700 40px/1 'Liberation Serif', serif;color:#ffffff;transform:scale(0.9909,1.0000);-webkit-text-stroke:0.81px #ffffff">0.415</div>
<div class="t" style="left:95.60px;top:878.00px;font:italic 700 23.7px/1 'Liberation Serif', serif;color:#fdebd6;transform:scale(1.0004,1.0000);-webkit-text-stroke:0.40px #fdebd6">171</div>
<div class="t" style="left:137.23px;top:870.00px;font:normal 700 33px/1 'Liberation Serif', serif;color:#fdebd6;transform:scale(0.8237,1.0000);-webkit-text-stroke:0.85px #fdebd6">SYRIA</div>
<div class="t" style="left:549.44px;top:864.50px;font:italic 700 40px/1 'Liberation Serif', serif;color:#ffffff;transform:scale(0.9626,1.0000);-webkit-text-stroke:0.83px #ffffff">0.407</div>
<div class="t" style="left:95.60px;top:933.00px;font:italic 700 23.7px/1 'Liberation Serif', serif;color:#fdebd6;transform:scale(0.9443,1.0000);-webkit-text-stroke:0.42px #fdebd6">172</div>
<div class="t" style="left:138.85px;top:925.00px;font:normal 700 33px/1 'Liberation Serif', serif;color:#fdebd6;transform:scale(0.8657,1.0000);-webkit-text-stroke:0.81px #fdebd6">BURUNDI</div>
<div class="t" style="left:531.40px;top:919.50px;font:italic 700 40px/1 'Liberation Serif', serif;color:#ffffff;transform:scale(0.9966,1.0000);-webkit-text-stroke:0.80px #ffffff">0.394</div>
<div class="t" style="left:95.60px;top:988.00px;font:italic 700 23.7px/1 'Liberation Serif', serif;color:#fdebd6;transform:scale(0.9443,1.0000);-webkit-text-stroke:0.42px #fdebd6">173</div>
<div class="t" style="left:137.19px;top:980.00px;font:normal 700 33px/1 'Liberation Serif', serif;color:#fdebd6;transform:scale(0.8583,1.0000);-webkit-text-stroke:0.82px #fdebd6">SOUTH SUDAN</div>
<div class="t" style="left:521.02px;top:974.50px;font:italic 700 40px/1 'Liberation Serif', serif;color:#ffffff;transform:scale(0.9787,1.0000);-webkit-text-stroke:0.82px #ffffff">0.388</div>
<div class="t" style="left:95.60px;top:1044.40px;font:italic 700 23.7px/1 'Liberation Serif', serif;color:#fdebd6;transform:scale(0.9443,1.0000);-webkit-text-stroke:0.42px #fdebd6">174</div>
<div class="t" style="left:137.35px;top:1036.40px;font:normal 700 33px/1 'Liberation Serif', serif;color:#fdebd6;transform:scale(0.8159,1.0000);-webkit-text-stroke:0.86px #fdebd6">D.R.C</div>
<div class="t" style="left:515.81px;top:1030.90px;font:italic 700 40px/1 'Liberation Serif', serif;color:#ffffff;transform:scale(0.9898,1.0000);-webkit-text-stroke:0.81px #ffffff">0.384</div>
<div class="t" style="left:95.60px;top:1099.00px;font:italic 700 23.7px/1 'Liberation Serif', serif;color:#fdebd6;transform:scale(0.9443,1.0000);-webkit-text-stroke:0.42px #fdebd6">175</div>
<div class="t" style="left:136.98px;top:1093.00px;font:normal 700 28.7px/1 'Liberation Serif', serif;color:#fdebd6;transform:scale(0.7657,1.0000);-webkit-text-stroke:0.91px #fdebd6">CENTRAL AFRICAN REPUBLIC</div>
<div class="t" style="left:510.32px;top:1085.50px;font:italic 700 40px/1 'Liberation Serif', serif;color:#ffffff;transform:scale(0.9843,1.0000);-webkit-text-stroke:0.81px #ffffff">0.378</div>
<div class="t" style="left:95.60px;top:1154.30px;font:italic 700 23.7px/1 'Liberation Serif', serif;color:#fdebd6;transform:scale(0.9443,1.0000);-webkit-text-stroke:0.42px #fdebd6">176</div>
<div class="t" style="left:137.75px;top:1146.30px;font:normal 700 33px/1 'Liberation Serif', serif;color:#fdebd6;transform:scale(0.7992,1.0000);-webkit-text-stroke:0.88px #fdebd6">YEMEN</div>
<div class="t" style="left:365.17px;top:1140.80px;font:italic 700 40px/1 'Liberation Serif', serif;color:#ffffff;transform:scale(0.9286,1.0000);-webkit-text-stroke:0.86px #ffffff">0.287</div>
<div class="t" style="left:95.60px;top:1210.00px;font:italic 700 23.7px/1 'Liberation Serif', serif;color:#fdebd6;transform:scale(0.9186,1.0000);-webkit-text-stroke:0.44px #fdebd6">177</div>
<div class="t" style="left:133.35px;top:1202.00px;font:normal 700 33px/1 'Liberation Serif', serif;color:#fdebd6;transform:scale(0.8291,1.0000);-webkit-text-stroke:0.84px #fdebd6">AFGHANISTAN</div>
<div class="t" style="left:362.24px;top:1196.50px;font:italic 700 40px/1 'Liberation Serif', serif;color:#ffffff;transform:scale(0.9596,1.0000);-webkit-text-stroke:0.83px #ffffff">0.286</div>
<div class="t" style="left:92.51px;top:1257.50px;font:normal 700 32px/1 'Liberation Serif', serif;color:#111111;transform:scale(0.8420,1.0000);-webkit-text-stroke:0.83px #111111">GLOBAL AVERAGE</div>
<div class="t" style="left:950.43px;top:1253.00px;font:italic 700 40px/1 'Liberation Serif', serif;color:#b80c81;transform:scale(0.9742,1.0000);-webkit-text-stroke:0.82px #b80c81">0.650</div>
<div class="t" style="left:741.07px;top:704.00px;font:normal 400 34.5px/1 'Liberation Serif', serif;color:#b80c81;transform:scale(0.9756,1.0000);-webkit-text-stroke:0.51px #b80c81">Index Score</div>
<div class="t" style="left:703.34px;top:918.30px;font:normal 400 24px/1 'DejaVu Serif', serif;color:#3c3c2e;transform:scale(1.0636,1.0000);-webkit-text-stroke:0.94px #3c3c2e">High maternal mortality</div>
<div class="t" style="left:704.40px;top:947.60px;font:normal 400 24px/1 'DejaVu Serif', serif;color:#3c3c2e;transform:scale(1.0471,1.0000);-webkit-text-stroke:0.95px #3c3c2e">rates, low education rates,</div>
<div class="t" style="left:703.33px;top:976.90px;font:normal 400 24px/1 'DejaVu Serif', serif;color:#3c3c2e;transform:scale(1.0704,1.0000);-webkit-text-stroke:0.93px #3c3c2e">and close proximity to</div>
<div class="t" style="left:703.31px;top:1006.20px;font:normal 400 24px/1 'DejaVu Serif', serif;color:#3c3c2e;transform:scale(1.0852,1.0000);-webkit-text-stroke:0.92px #3c3c2e">conflict</div>
<div class="t" style="left:809.17px;top:1006.20px;font:normal 400 24px/1 'DejaVu Serif', serif;color:#3c3c2e;transform:scale(1.0769,1.0000);-webkit-text-stroke:0.46px #3c3c2e">contributed to</div>
<div class="t" style="left:704.15px;top:1035.50px;font:normal 400 24px/1 'DejaVu Serif', serif;color:#3c3c2e;transform:scale(1.0376,1.0000);-webkit-text-stroke:0.48px #3c3c2e">the low overall scores</div>
<div class="t" style="left:786.82px;top:396.50px;font:normal 400 24.6px/1 'DejaVu Serif', serif;color:#3c3c2e;transform:scale(0.9830,1.0000);-webkit-text-stroke:0.61px #3c3c2e">Rank based on 13</div>
<div class="t" style="left:787.80px;top:425.30px;font:normal 400 24.6px/1 'DejaVu Serif', serif;color:#3c3c2e;transform:scale(1.0252,1.0000);-webkit-text-stroke:0.59px #3c3c2e">indicators across</div>
<div class="t" style="left:787.80px;top:454.10px;font:normal 400 24.6px/1 'DejaVu Serif', serif;color:#3c3c2e;transform:scale(1.0360,1.0000);-webkit-text-stroke:0.58px #3c3c2e">inclusion, justice,</div>
<div class="t" style="left:786.76px;top:482.90px;font:normal 400 24.6px/1 'DejaVu Serif', serif;color:#3c3c2e;transform:scale(1.0361,1.0000);-webkit-text-stroke:0.58px #3c3c2e">and security</div>
<div class="t" style="left:37.92px;top:1329.40px;font:normal 400 22.6px/1 'Liberation Sans', sans-serif;color:#2f3a2c;transform:scale(0.9333,1.0000);-webkit-text-stroke:0.32px #2f3a2c">Source: Georgetown Institute for Women, Peace and Security (2023)</div>
<div class="t" style="left:666.95px;top:102.00px;font:italic 700 29px/1 'Liberation Serif', serif;color:#0a0a0a;transform:scale(0.9171,1.0000);-webkit-text-stroke:0.98px #0a0a0a">171</div>
<div class="t" style="left:750.45px;top:122.60px;font:italic 700 29px/1 'Liberation Serif', serif;color:#0a0a0a;transform:scale(0.9045,1.0000);-webkit-text-stroke:0.99px #0a0a0a">168</div>
<div class="t" style="left:825.15px;top:115.90px;font:italic 700 29px/1 'Liberation Serif', serif;color:#0a0a0a;transform:scale(0.8844,1.0000);-webkit-text-stroke:1.02px #0a0a0a">177</div>
<div class="t" style="left:734.85px;top:250.80px;font:italic 700 29px/1 'Liberation Serif', serif;color:#0a0a0a;transform:scale(0.8795,1.0000);-webkit-text-stroke:1.02px #0a0a0a">176</div>
<div class="t" style="left:792.05px;top:316.00px;font:italic 700 29px/1 'Liberation Serif', serif;color:#0a0a0a;transform:scale(0.9163,1.0000);-webkit-text-stroke:0.98px #0a0a0a">169</div>
<div class="t" style="left:558.55px;top:326.30px;font:italic 700 29px/1 'Liberation Serif', serif;color:#0a0a0a;transform:scale(0.9000,1.0000);-webkit-text-stroke:1.00px #0a0a0a">175</div>
<div class="t" style="left:640.95px;top:317.60px;font:italic 700 29px/1 'Liberation Serif', serif;color:#0a0a0a;transform:scale(0.9372,1.0000);-webkit-text-stroke:0.96px #0a0a0a">173</div>
<div class="t" style="left:601.75px;top:418.70px;font:italic 700 29px/1 'Liberation Serif', serif;color:#0a0a0a;transform:scale(0.8651,1.0000);-webkit-text-stroke:1.04px #0a0a0a">174</div>
<div class="t" style="left:669.95px;top:417.60px;font:italic 700 29px/1 'Liberation Serif', serif;color:#0a0a0a;transform:scale(0.9209,1.0000);-webkit-text-stroke:0.98px #0a0a0a">172</div>
<div class="t" style="left:641.45px;top:579.00px;font:italic 700 29px/1 'Liberation Serif', serif;color:#0a0a0a;transform:scale(0.9326,1.0000);-webkit-text-stroke:0.97px #0a0a0a">170</div>
<div class="t" style="left:634.10px;top:250.40px;font:normal 400 28px/1 'Liberation Serif', serif;color:#f7f3d4;transform:scale(1.0355,1.0000);-webkit-text-stroke:0.58px #f7f3d4">Rank</div>
<svg style="left:1000px;top:1295px" width="92" height="65" viewBox="0 0 1092 772" aria-label="logo">
<g fill="#bb0a84">
<circle cx="401" cy="461" r="189" fill="none" stroke="#bb0a84" stroke-width="34"/>
<circle cx="729" cy="461" r="189" fill="none" stroke="#bb0a84" stroke-width="34"/>
<path d="M250,345 L385,152 Q470,108 562,172 Q652,108 740,152 L880,345 A189 189 0 0 0 565,367 A189 189 0 0 0 250,345 Z"/>
<path d="M378,560 Q368,420 520,392 Q600,376 640,396 L668,370 L686,412 Q760,440 776,490 Q812,500 808,545 Q800,592 752,602 Q735,640 700,662 Q610,650 563,604 Q515,652 420,662 Q378,640 378,560 Z"/>
<path d="M378,560 L345,548 L330,520 L312,512 M345,548 L332,566" fill="none" stroke="#bb0a84" stroke-width="14" stroke-linecap="round"/>
</g>
</svg>

<div class="green"></div>
</body></html>
